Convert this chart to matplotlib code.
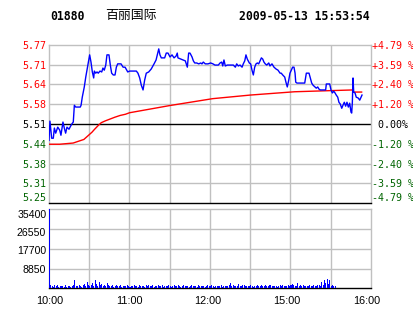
import matplotlib
matplotlib.use("Agg")
import matplotlib.pyplot as plt
from matplotlib.transforms import ScaledTranslation
import numpy as np

# ---------------- data ----------------
stock_code = "01880"
stock_name = "百丽国际"
stamp = "2009-05-13 15:53:54"
prev_close = 5.51
price_labels = ["5.77", "5.71", "5.64", "5.58", "5.51", "5.44", "5.38", "5.31", "5.25"]
pct_values = [4.79, 3.59, 2.40, 1.20, 0.00, -1.20, -2.40, -3.59, -4.79]
pct_labels = ["+4.79 %", "+3.59 %", "+2.40 %", "+1.20 %", " 0.00%",
              "-1.20 %", "-2.40 %", "-3.59 %", "-4.79 %"]
vol_ticks = [35400, 26550, 17700, 8850]
time_ticks = [0, 60, 120, 180, 240]
time_labels = ["10:00", "11:00", "12:00", "15:00", "16:00"]

# minutes of trading since 10:00 (12:30-14:30 break removed)
price_t = [0.0, 0.7, 2.0, 3.2, 4.0, 5.0, 6.5, 8.0, 8.9, 10.4, 11.4, 12.4, 13.4, 14.9,
           16.4, 17.4, 18.1, 18.9, 19.9, 23.3, 23.9, 24.8, 26.3, 27.4, 28.3, 29.3,
           30.3, 31.3, 32.3, 33.3, 33.8, 34.8, 35.8, 36.7, 38.0, 39.3, 40.2, 41.2,
           42.3, 43.2, 44.7, 45.7, 46.7, 47.9, 49.2, 50.2, 51.2, 53.7, 55.2, 56.7,
           58.7, 60.1, 65.1, 66.3, 67.6, 68.8, 70.1, 71.3, 72.5, 74.3, 76.2, 78.3,
           79.8, 80.7, 81.8, 82.7, 83.7, 86.2, 87.4, 88.7, 90.2, 91.7, 93.2, 94.7,
           95.6, 96.1, 98.2, 99.9, 101.6, 102.6, 103.1, 104.1, 105.1, 106.6, 107.6,
           108.6, 110.1, 111.6, 113.1, 114.0, 115.0, 116.5, 118.5, 120.5, 122.2,
           123.7, 126.2, 127.5, 128.7, 129.5, 130.4, 131.4, 132.9, 137.4, 138.9,
           139.9, 141.1, 142.4, 143.9, 144.8, 145.9, 146.8, 147.8, 149.3, 150.3,
           151.3, 152.3, 153.3, 154.3, 155.3, 156.3, 157.3, 158.3, 159.3, 160.2,
           161.2, 162.3, 163.8, 164.7, 166.2, 167.7, 169.2, 170.7, 172.2, 173.1,
           174.2, 175.7, 176.6, 177.6, 178.7, 179.6, 180.6, 181.6, 182.6, 183.4,
           183.9, 184.8, 190.6, 191.8, 193.8, 194.8, 195.8, 196.8, 198.3, 199.2,
           200.3, 201.2, 202.2, 206.2, 206.7, 209.2, 210.2, 211.2, 212.2, 213.2,
           214.1, 215.2, 216.1, 217.1, 218.2, 219.1, 220.1, 221.1, 222.1, 223.1,
           224.1, 225.1, 225.6, 226.1, 226.6, 227.1, 228.1, 229.0, 230.5, 231.6,
           232.6, 233.3]
price_v = [5.455, 5.519, 5.462, 5.462, 5.496, 5.479, 5.499, 5.489, 5.472, 5.516, 5.496,
           5.479, 5.499, 5.492, 5.505, 5.512, 5.516, 5.572, 5.566, 5.566, 5.572, 5.599,
           5.633, 5.666, 5.689, 5.713, 5.740, 5.716, 5.683, 5.663, 5.686, 5.679, 5.683,
           5.679, 5.686, 5.683, 5.696, 5.689, 5.706, 5.740, 5.740, 5.706, 5.679, 5.673,
           5.673, 5.699, 5.710, 5.710, 5.699, 5.699, 5.683, 5.686, 5.686, 5.679, 5.663,
           5.639, 5.623, 5.656, 5.679, 5.683, 5.693, 5.710, 5.723, 5.740, 5.760, 5.740,
           5.730, 5.730, 5.746, 5.746, 5.733, 5.740, 5.730, 5.736, 5.746, 5.730, 5.726,
           5.723, 5.720, 5.706, 5.699, 5.746, 5.746, 5.733, 5.720, 5.713, 5.713, 5.710,
           5.713, 5.710, 5.716, 5.710, 5.710, 5.713, 5.710, 5.706, 5.706, 5.713, 5.716,
           5.703, 5.723, 5.703, 5.706, 5.706, 5.699, 5.710, 5.703, 5.706, 5.699, 5.710,
           5.720, 5.740, 5.726, 5.713, 5.710, 5.689, 5.673, 5.699, 5.710, 5.713, 5.710,
           5.720, 5.730, 5.726, 5.716, 5.710, 5.706, 5.713, 5.703, 5.710, 5.699, 5.693,
           5.689, 5.679, 5.679, 5.673, 5.666, 5.649, 5.633, 5.656, 5.679, 5.689, 5.699,
           5.699, 5.679, 5.649, 5.646, 5.646, 5.679, 5.679, 5.663, 5.646, 5.639, 5.633,
           5.629, 5.633, 5.626, 5.623, 5.623, 5.643, 5.643, 5.623, 5.613, 5.619, 5.613,
           5.606, 5.599, 5.582, 5.576, 5.562, 5.572, 5.582, 5.569, 5.582, 5.566, 5.579,
           5.549, 5.546, 5.582, 5.663, 5.616, 5.613, 5.599, 5.596, 5.589, 5.599, 5.606]

avg_t = [0, 8, 18, 22, 26, 27, 29, 32, 34, 37, 39, 42, 45.5, 49, 53, 57, 60, 90,
         122, 150, 183, 197, 226, 227, 233]
avg_v = [5.442, 5.442, 5.446, 5.452, 5.458, 5.462, 5.470, 5.482, 5.492, 5.506, 5.514,
         5.520, 5.526, 5.532, 5.538, 5.542, 5.547, 5.571, 5.594, 5.606, 5.617, 5.619,
         5.623, 5.616, 5.616]

volume = [35400, 1500, 1200, 800, 1400, 1000, 1300, 600, 1200, 900,
          1100, 700, 1500, 800, 1000, 1200, 600, 900, 1300, 3600,
          1200, 900, 1400, 1000, 800, 1300, 1800, 1100, 2800, 1500,
          1000, 1400, 2200, 900, 3600, 1800, 1200, 2600, 1400, 1900,
          1200, 1600, 1000, 2400, 1300, 1100, 900, 1500, 800, 1200,
          1400, 900, 1100, 1300, 700, 1000, 1200, 900, 1400, 1100,
          800, 1200, 1000, 1500, 900, 1100, 700, 1300, 1000, 900,
          1200, 800, 1400, 1000, 1600, 900, 1100, 1300, 800, 1200,
          1000, 1400, 900, 1100, 1300, 800, 1000, 1200, 900, 1500,
          1100, 800, 1000, 1300, 900, 1200, 1400, 1000, 800, 1100,
          1300, 900, 1200, 1000, 800, 1100, 1400, 900, 1000, 1200,
          800, 1300, 1000, 900, 1100, 1200, 800, 1000, 1400, 900,
          1100, 1300, 1000, 800, 1200, 900, 1100, 1000, 1300, 800,
          1200, 900, 1000, 1100, 1400, 2200, 1000, 1300, 900, 1200,
          1000, 1800, 1100, 900, 1300, 1600, 1000, 1200, 900, 1100,
          1300, 1000, 800, 1200, 1100, 1400, 900, 1000, 1300, 1100,
          1200, 1500, 900, 1000, 1300, 1700, 1100, 900, 1200, 1000,
          800, 1100, 1300, 1000, 1400, 1200, 900, 1000, 1300, 1100,
          1500, 2000, 1300, 1000, 1200, 2400, 1100, 1700, 1000, 1300,
          900, 1100, 1200, 1000, 1400, 1100, 900, 1300, 1000, 1200,
          1400, 1700, 1100, 2800, 1300, 3600, 2200, 4000, 1800, 3800,
          1200, 1500, 1000, 900]

# ---------------- figure ----------------
W, H = 414, 314
fig = plt.figure(figsize=(W / 100, H / 100), dpi=100)
fig.patch.set_facecolor("white")

def frac(l, t, r, b):
    return [l / W, 1 - b / H, (r - l) / W, (b - t) / H]

def shift(lbl, dx_px, dy_px):
    lbl.set_transform(lbl.get_transform() +
                      ScaledTranslation(dx_px / 100, dy_px / 100, fig.dpi_scale_trans))

grid_c = "#c0c0c0"
red = "#ff0000"
green = "#006400"
mono = "DejaVu Sans Mono"
sans = "Liberation Sans"

ax = fig.add_axes(frac(49, 44.7, 371, 203))
vax = fig.add_axes(frac(49, 209.3, 371, 288.3))

ymin = prev_close * (1 - 0.0479)
ymax = prev_close * (1 + 0.0479)
tick_pos = [prev_close * (1 + p / 100) for p in pct_values]

for a in (ax, vax):
    a.set_xlim(0, 240)
    for x in np.arange(30, 240, 30):
        a.axvline(x, color=grid_c, lw=1.0, zorder=0)
    for s in ("top", "left", "right"):
        a.spines[s].set_color(grid_c)
        a.spines[s].set_linewidth(1.0)
    a.spines["bottom"].set_color("black")
    a.spines["bottom"].set_linewidth(1.0)
    a.tick_params(length=0)

ax.set_ylim(ymin, ymax)
for y, p in zip(tick_pos, pct_values):
    if p == 0:
        ax.axhline(y, color="black", lw=1.0, zorder=1)
    elif abs(p) < 4.7:
        ax.axhline(y, color=grid_c, lw=1.0, zorder=0)

ax.plot(avg_t, avg_v, color=red, lw=1.0, zorder=3)
ax.plot(price_t, price_v, color="#0000ff", lw=1.0, zorder=4)

ax.set_xticks([])
ax.set_yticks(tick_pos)
ax.set_yticklabels(price_labels, fontfamily=mono, fontsize=7.2)
ax.tick_params(axis="y", pad=2)
for lbl, p in zip(ax.get_yticklabels(), pct_values):
    lbl.set_color(red if p > 0 else (green if p < 0 else "black"))
shift(ax.get_yticklabels()[-1], 0, 6)

ax2 = ax.twinx()
ax2.set_ylim(ymin, ymax)
ax2.set_yticks(tick_pos)
ax2.set_yticklabels(pct_labels, fontfamily=mono, fontsize=7.2)
ax2.tick_params(axis="y", length=0, pad=0.5)
for lbl, p in zip(ax2.get_yticklabels(), pct_values):
    lbl.set_color(red if p > 0 else (green if p < 0 else "black"))
shift(ax2.get_yticklabels()[-1], 0, 6)
for s in ax2.spines.values():
    s.set_visible(False)

# volume
vax.set_ylim(0, 35400)
for v in vol_ticks[1:]:
    vax.axhline(v, color=grid_c, lw=1.0, zorder=0)
vax.bar(np.arange(len(volume)), volume, width=0.75, color="#0000ff", align="edge", zorder=3)
vax.set_yticks(vol_ticks)
vax.set_yticklabels([str(v) for v in vol_ticks], fontfamily=sans, fontsize=7.6)
vax.tick_params(axis="y", pad=2)
vlabels = vax.get_yticklabels()
shift(vlabels[0], 0, -4.5)
shift(vlabels[1], 0, -2.5)
shift(vlabels[2], 0, -1.5)
vax.set_xticks(time_ticks)
vax.set_xticklabels(time_labels, fontfamily=sans, fontsize=7.8)
vax.tick_params(axis="x", pad=5.5)
for lbl, dx in zip(vax.get_xticklabels(), [1, -0.5, -2, -4, -4.5]):
    shift(lbl, dx, 0)

# header
fig.text(50 / W, 1 - 17 / H, stock_code, fontfamily=mono, fontweight="bold",
         fontsize=8.3, va="center", ha="left")
fig.text(105 / W, 1 - 16 / H, stock_name, fontfamily=["Noto Sans CJK SC", "DejaVu Sans"],
         fontsize=9.3, va="center", ha="left")
fig.text(370 / W, 1 - 17 / H, stamp, fontfamily=mono, fontweight="bold",
         fontsize=8.3, va="center", ha="right")

fig.savefig("out.png", dpi=100, facecolor="white")
